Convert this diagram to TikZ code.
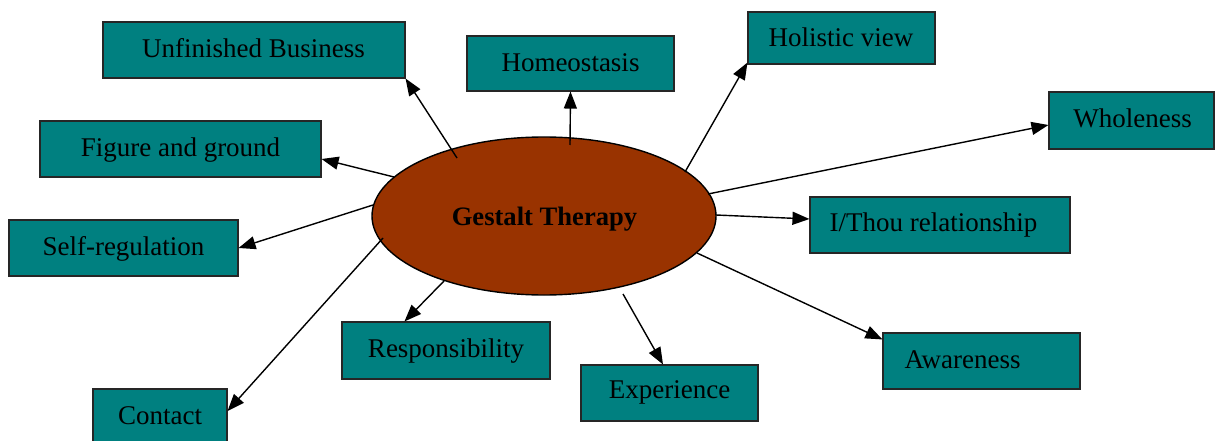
\documentclass[tikz,border=0pt]{standalone}
\usepackage{fontspec}
\setmainfont{Liberation Serif}
\usetikzlibrary{shapes.geometric,arrows.meta}
\definecolor{boxteal}{HTML}{008080}
\definecolor{hubbrown}{HTML}{993300}
\begin{document}
\begin{tikzpicture}[x=1pt,y=-1pt,
  conceptbox/.style={draw=black!85,line width=1.1pt,fill=boxteal,rectangle,inner sep=0pt},
  conceptlbl/.style={inner sep=0pt,text height=0.7em,text depth=0.22em,yshift=-6.5pt,
    font=\fontsize{27}{31}\selectfont},
  hub/.style={draw=black,line width=1.4pt,fill=hubbrown,ellipse,inner sep=0pt,
    minimum width=344pt,minimum height=158pt},
  arr/.style={line width=1.4pt,-{Triangle[length=17pt,width=13pt]}}]
\useasboundingbox (0,0) rectangle (1215,441);

% central ellipse
\node[hub] (gt) at (544,216) {};
\node[conceptlbl,font=\fontsize{26.6}{30}\selectfont\bfseries] (gt-t) at (544.5,217) {Gestalt Therapy};

% concept boxes
\node[conceptbox,minimum width=302pt,minimum height=56pt] (ub) at (254,50) {};
\node[conceptlbl] (ub-t) at (253.5,49) {Unfinished Business};
\node[conceptbox,minimum width=207pt,minimum height=55pt] (ho) at (570.5,63.5) {};
\node[conceptlbl] (ho-t) at (570.5,63) {Homeostasis};
\node[conceptbox,minimum width=187pt,minimum height=52pt] (hv) at (841.5,38) {};
\node[conceptlbl] (hv-t) at (841,38) {Holistic view};
\node[conceptbox,minimum width=165pt,minimum height=57pt] (wh) at (1131.5,120.5) {};
\node[conceptlbl] (wh-t) at (1132.5,119) {Wholeness};
\node[conceptbox,minimum width=281pt,minimum height=56pt] (fg) at (180.5,149) {};
\node[conceptlbl] (fg-t) at (180.5,148) {Figure and ground};
\node[conceptbox,minimum width=260pt,minimum height=56pt] (it) at (940,225) {};
\node[conceptlbl] (it-t) at (933.5,223) {I/Thou relationship};
\node[conceptbox,minimum width=229pt,minimum height=56pt] (sr) at (123.5,248) {};
\node[conceptlbl] (sr-t) at (123.5,247) {Self-regulation};
\node[conceptbox,minimum width=208pt,minimum height=57pt] (re) at (446,350.5) {};
\node[conceptlbl] (re-t) at (446,349) {Responsibility};
\node[conceptbox,minimum width=177pt,minimum height=56pt] (ex) at (669.5,393) {};
\node[conceptlbl] (ex-t) at (669.5,390) {Experience};
\node[conceptbox,minimum width=197pt,minimum height=56pt] (aw) at (981.5,361) {};
\node[conceptlbl] (aw-t) at (962.5,360) {Awareness};
\node[conceptbox,minimum width=134pt,minimum height=54pt] (co) at (160,416) {};
\node[conceptlbl] (co-t) at (160,416) {Contact};

% connector start points on the ellipse rim
\coordinate (s-ub) at (457,158);
\coordinate (s-ho) at (570,145);
\coordinate (s-hv) at (685,172);
\coordinate (s-wh) at (708,194);
\coordinate (s-it) at (716,215);
\coordinate (s-aw) at (697,253);
\coordinate (s-ex) at (623,294);
\coordinate (s-re) at (444,281);
\coordinate (s-co) at (383,238);
\coordinate (s-sr) at (373,205);
\coordinate (s-fg) at (394,177);

% connectors
\draw[arr] (s-ub) -- (ub.south east);
\draw[arr] (s-ho) -- (ho.south);
\draw[arr] (s-hv) -- ([yshift=2pt]hv.south west);
\draw[arr] (s-wh) -- ([yshift=-4.5pt]wh.west);
\draw[arr] (s-it) -- ([yshift=6pt]it.west);
\draw[arr] (s-aw) -- ([yshift=-7pt]aw.north west);
\draw[arr] (s-ex) -- ([xshift=-6.5pt]ex.north);
\draw[arr] (s-re) -- ([xshift=63pt]re.north west);
\draw[arr] (s-co) -- ([yshift=5pt]co.east);
\draw[arr] (s-sr) -- (sr.east);
\draw[arr] (s-fg) -- ([yshift=-10pt]fg.east);
\end{tikzpicture}
\end{document}
